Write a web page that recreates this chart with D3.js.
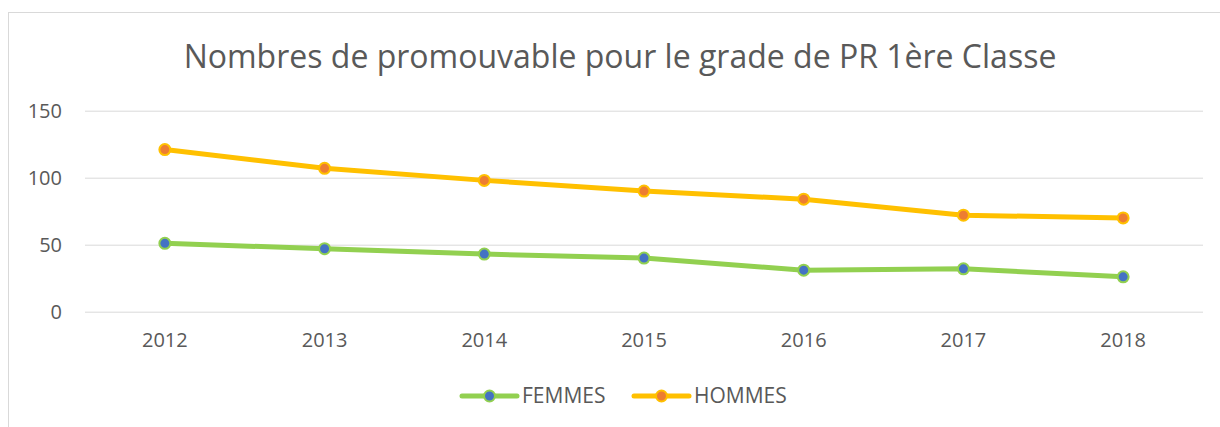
<!DOCTYPE html>
<html>
<head>
<meta charset="utf-8">
<script src="https://cdn.jsdelivr.net/npm/d3@7"></script>
<style>
  body { margin: 0; background: #fff; }
  svg { display: block; font-family: 'Open Sans', sans-serif; }
</style>
</head>
<body>
<svg id="chart"></svg>
<script>
const years = ['2012', '2013', '2014', '2015', '2016', '2017', '2018'];
const femmes = [51, 47, 43, 40, 31, 32, 26];
const hommes = [121, 107, 98, 90, 84, 72, 70];
const yTicks = [0, 50, 100, 150];

const series = [
  {name: 'FEMMES', values: femmes, line: '#92d050', fill: '#4472c4'},
  {name: 'HOMMES', values: hommes, line: '#ffc000', fill: '#ed7d31'}
];

const width = 1220, height = 427;
const margin = {left: 85, right: 17, top: 110.7, bottom: 115.3};

const svg = d3.select('#chart')
    .attr('width', width)
    .attr('height', height);

// chart frame
svg.append('rect')
    .attr('x', 8.5).attr('y', 12.5)
    .attr('width', width).attr('height', height)
    .attr('fill', 'none')
    .attr('stroke', '#d9d9d9');

const x = d3.scaleBand()
    .domain(years)
    .range([margin.left, width - margin.right]);

const y = d3.scaleLinear()
    .domain([0, 150])
    .range([height - margin.bottom, margin.top]);

svg.append('text')
    .attr('x', 620).attr('y', 68)
    .attr('text-anchor', 'middle')
    .attr('fill', '#595959')
    .style('font-size', '32px')
    .text('Nombres de promouvable pour le grade de PR 1ère Classe');

// gridlines + y labels
const yAxis = svg.append('g')
    .attr('transform', `translate(${margin.left},0)`)
    .call(d3.axisLeft(y).tickValues(yTicks).tickSize(-(width - margin.left - margin.right)).tickPadding(23));
yAxis.select('.domain').remove();
yAxis.selectAll('.tick line').attr('stroke', '#d9d9d9');
yAxis.selectAll('.tick text')
    .attr('fill', '#595959')
    .style('font-size', '20px')
    .style('font-family', "'Open Sans', sans-serif");

const xAxis = svg.append('g')
    .attr('transform', `translate(0,${y(0)})`)
    .call(d3.axisBottom(x).tickSize(0).tickPadding(21));
xAxis.select('.domain').remove();
xAxis.selectAll('.tick text')
    .attr('fill', '#595959')
    .style('font-size', '20px')
    .style('font-family', "'Open Sans', sans-serif");

const line = d3.line()
    .x((d, i) => x(years[i]) + x.bandwidth() / 2)
    .y(d => y(d));

const g = svg.append('g');
series.forEach(s => {
  g.append('path')
      .datum(s.values)
      .attr('fill', 'none')
      .attr('stroke', s.line)
      .attr('stroke-width', 5)
      .attr('stroke-linejoin', 'round')
      .attr('d', line);
  g.selectAll(null)
    .data(s.values)
    .join('circle')
      .attr('cx', (d, i) => x(years[i]) + x.bandwidth() / 2)
      .attr('cy', d => y(d))
      .attr('r', 5.5)
      .attr('fill', s.fill)
      .attr('stroke', s.line)
      .attr('stroke-width', 2);
});

// legend
const legendX = [462, 634];
const legend = svg.append('g')
  .selectAll('g')
  .data(series)
  .join('g')
    .attr('transform', (d, i) => `translate(${legendX[i]},396)`);
legend.append('line')
    .attr('x1', 0).attr('x2', 55)
    .attr('stroke', d => d.line)
    .attr('stroke-width', 5)
    .attr('stroke-linecap', 'round');
legend.append('circle')
    .attr('cx', 27.5).attr('r', 5.5)
    .attr('fill', d => d.fill)
    .attr('stroke', d => d.line)
    .attr('stroke-width', 2);
legend.append('text')
    .attr('x', 60).attr('dy', '0.35em')
    .attr('fill', '#595959')
    .style('font-size', '21px')
    .text(d => d.name);
</script>
</body>
</html>
